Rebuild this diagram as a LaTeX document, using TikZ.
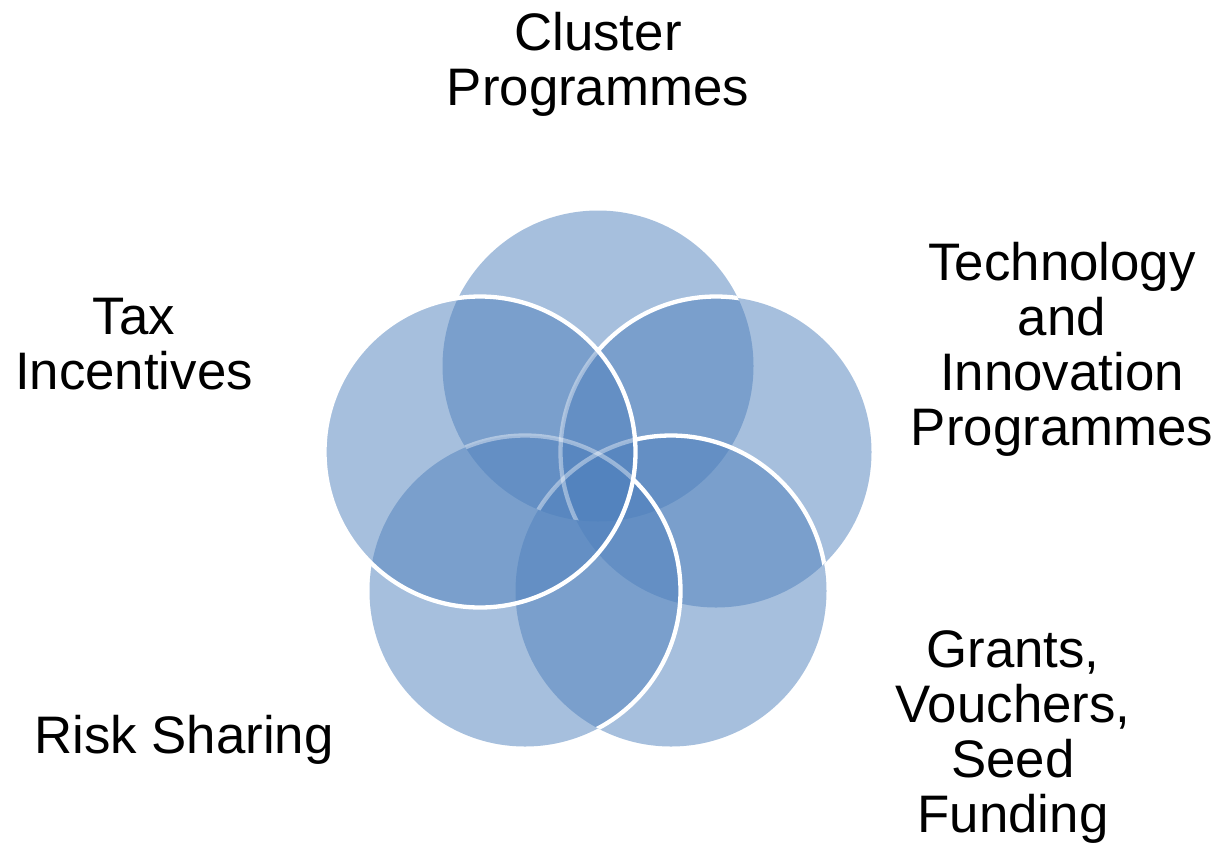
\documentclass[tikz,border=0pt]{standalone}
\usepackage{fontspec}
\setmainfont{Liberation Sans}
\definecolor{venn}{HTML}{4F81BD}
\tikzset{
  fillc/.style={fill=venn, fill opacity=0.5},
  crisp/.style={draw=white, line width=4.3pt},
  faded/.style={draw=white, line width=4.3pt, draw opacity=0.4},
  lbl/.style={font=\fontsize{52.8}{55}\selectfont, align=center, inner sep=0pt, anchor=north, text=black}
}
\begin{document}
\begin{tikzpicture}[x=1pt,y=-1pt]
\useasboundingbox[fill=white] (0,0) rectangle (1220,847);
\coordinate (T) at (598,366);
\coordinate (R) at (716,452);
\coordinate (BR) at (671,591);
\coordinate (BL) at (525,591);
\coordinate (L) at (480,452);
% fills
\foreach \c in {T,R,BR,BL,L} { \fill[fillc] (\c) circle (155.5pt); }
% faded lines inside T and L
\begin{scope}
  \clip (T) circle (155.5pt);
  \clip (L) circle (155.5pt);
  \draw[faded] (R) circle (155.5pt);
  \draw[faded] (BR) circle (155.5pt);
  \draw[faded] (BL) circle (155.5pt);
\end{scope}
% crisp R inside T outside L
\begin{scope}[even odd rule]
  \clip (T) circle (155.5pt);
  \clip (-20,-20) rectangle (1240,870) (L) circle (155.5pt);
  \draw[crisp] (R) circle (155.5pt);
\end{scope}
% crisp BR inside R outside L
\begin{scope}[even odd rule]
  \clip (R) circle (155.5pt);
  \clip (-20,-20) rectangle (1240,870) (L) circle (155.5pt);
  \draw[crisp] (BR) circle (155.5pt);
\end{scope}
% crisp BL inside BR outside L
\begin{scope}[even odd rule]
  \clip (BR) circle (155.5pt);
  \clip (-20,-20) rectangle (1240,870) (L) circle (155.5pt);
  \draw[crisp] (BL) circle (155.5pt);
\end{scope}
% L full
\draw[crisp] (L) circle (155.5pt);
% labels
\node[lbl] (cluster) at (598,12) {Cluster\\Programmes};
\node[lbl] (tech) at (1062,242) {Technology\\and\\Innovation\\Programmes};
\node[lbl] (tax) at (134,298) {Tax\\Incentives};
\node[lbl] (risk) at (184,715) {Risk Sharing};
\node[lbl] (grants) at (1013,630) {Grants,\\Vouchers,\\Seed\\Funding};
\end{tikzpicture}
\end{document}
